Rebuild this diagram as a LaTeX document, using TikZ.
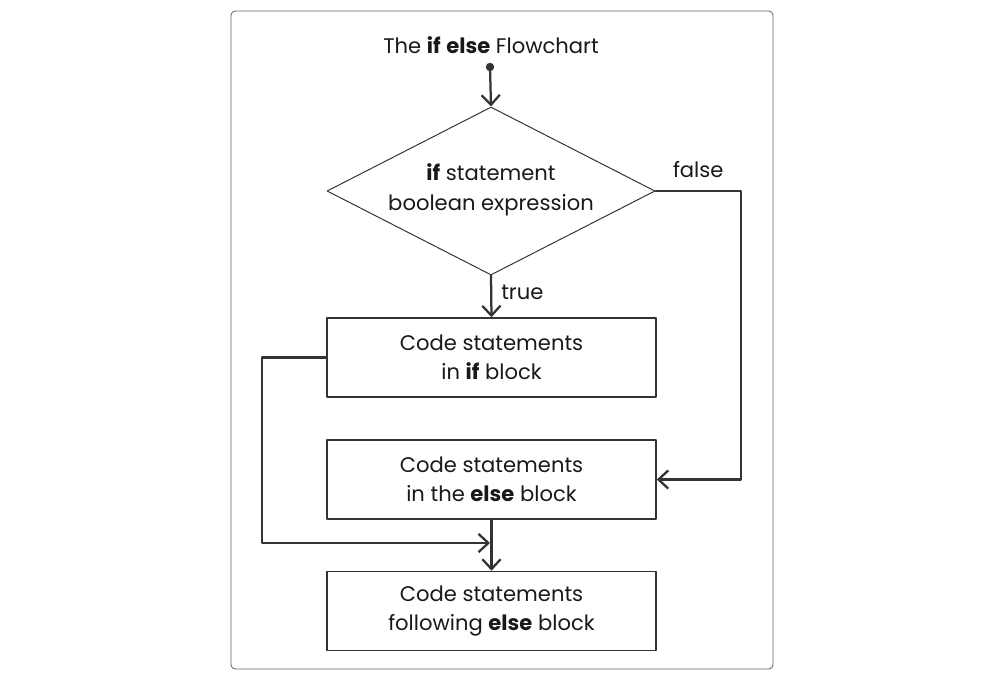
\documentclass[tikz,border=0pt]{standalone}
\usepackage{fontspec}
\setmainfont{Poppins}
\usetikzlibrary{arrows.meta,shapes.geometric}
\definecolor{linegray}{HTML}{333333}
\definecolor{framegray}{HTML}{666666}

\begin{document}
\begin{tikzpicture}[line cap=round,line join=round,>={Straight Barb[length=7pt,width=13pt]},x=0.025cm,y=-0.025cm]
		\tikzset{
			codebox/.style={draw=linegray,line width=1.1pt,minimum width=8.225cm,minimum height=1.975cm,align=center,inner sep=0pt,text=black!90,font=\fontsize{15}{20.8}\selectfont},
			decision/.style={diamond,draw=linegray,line width=0.7pt,aspect=2,minimum width=8.2cm,minimum height=4.2cm,align=center,inner sep=-6pt,text=black!90,font=\fontsize{15}{20.8}\selectfont},
			flow/.style={draw=linegray,line width=1.6pt},
			caption/.style={text=black!90,font=\fontsize{15}{20.8}\selectfont}
		}
		\useasboundingbox (0,0) rectangle (1002,679);
		\draw [framegray,line width=0.6pt,rounded corners=3pt] (231,11) rectangle (773,669);
		\node[caption] (title) at (491,45) {The \textbf{if} \textbf{else} Flowchart};
		\coordinate (start) at (490,67);
		\node[decision] (cond) at (491,191) {\textbf{if} statement\\boolean expression\\[-15pt]\mbox{}};
		\node[codebox] (ifblock) at (491.5,357.5) {Code statements\\in \textbf{if} block};
		\node[codebox] (elseblock) at (491.5,479.5) {Code statements\\in the \textbf{else} block};
		\node[codebox] (after) at (491.5,611) {Code statements\\following \textbf{else} block};
		\coordinate (rightrail) at (741,0);
		\coordinate (leftrail) at (262,0);
		\coordinate (merge) at (490,543);
		% connectors
		\fill [linegray] (start) circle (3pt);
		\draw [flow,->] (start) -- (cond.north);
		\draw [flow,->] (cond.south) -- node[caption,right=3pt,yshift=3pt] {true} (ifblock.north);
		\draw [flow,->] (cond.east) -- node[caption,above=5pt] {false} (rightrail |- cond.east) -- (rightrail |- elseblock.east) -- (elseblock.east);
		\draw [flow,->] (ifblock.west) -- (leftrail |- ifblock.west) -- (leftrail |- merge) -- (merge);
		\draw [flow,->] (elseblock.south) -- (after.north);
\end{tikzpicture}
\end{document}
